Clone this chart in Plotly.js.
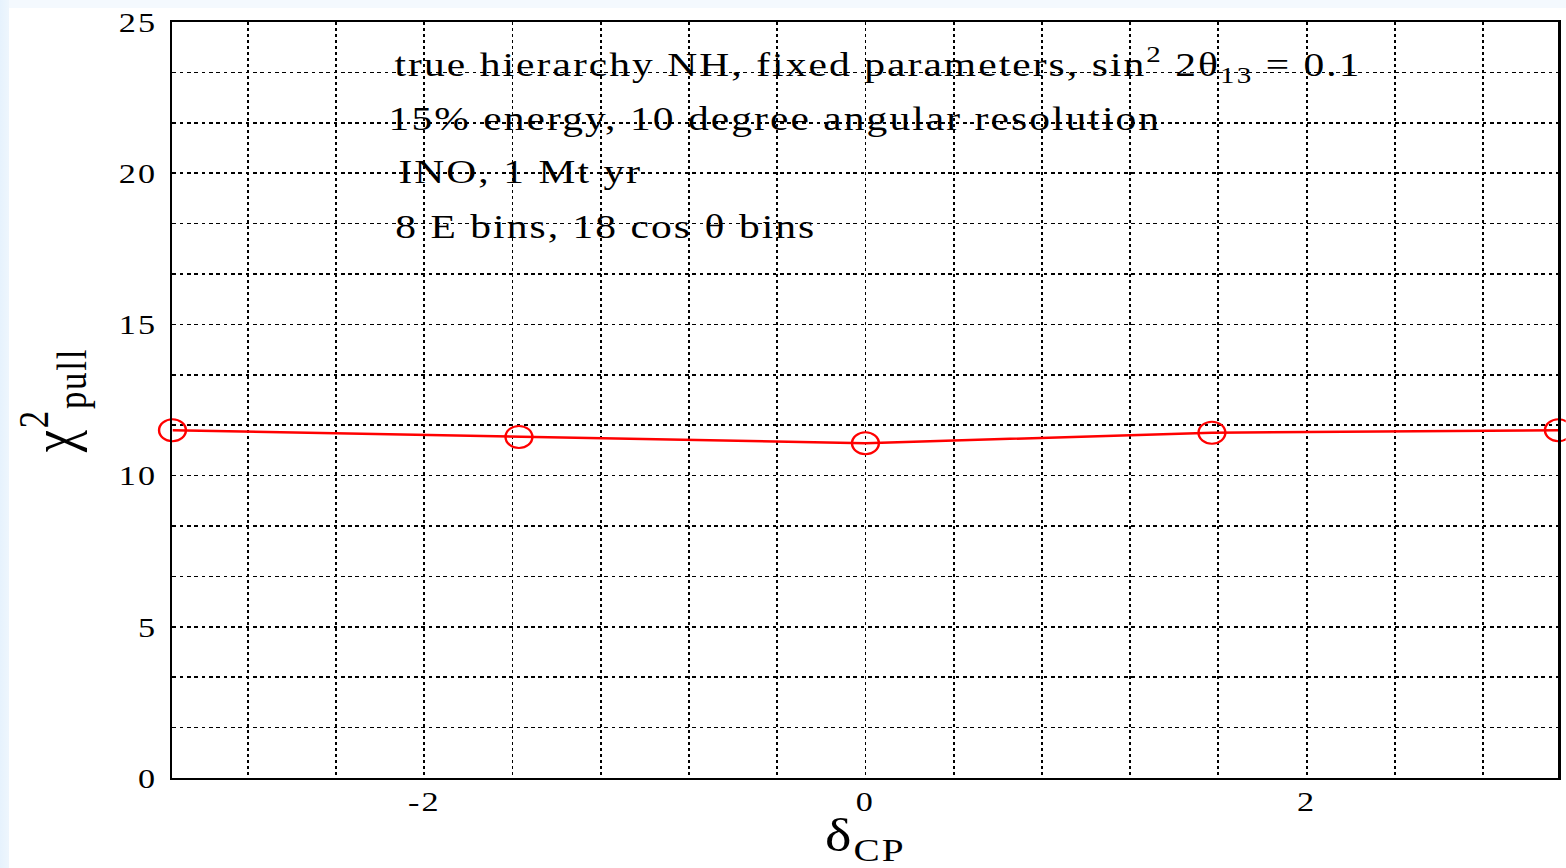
<!DOCTYPE html>
<html>
<head>
<meta charset="utf-8">
<script src="https://cdn.plot.ly/plotly-3.0.1.min.js"></script>
<style>
  html, body { margin: 0; padding: 0; width: 1566px; height: 868px; overflow: hidden;
    background: linear-gradient(90deg, #e6f2fd 0px, #eef6fd 9px, #f4f9fe 9px); }
  #chart { position: absolute; left: 9px; top: 8px; width: 1276px; height: 860px;
    transform-origin: 0 0; transform: scaleX(1.22); background: #ffffff; }
  #chart svg text { letter-spacing: 1.7px; }
</style>
</head>
<body>
<div id="chart"></div>
<script>
// CP phase values scanned over the full range
const deltaCP = [-Math.PI, -Math.PI / 2, 0, Math.PI / 2, Math.PI];
// pull-method chi-squared at each delta_CP
const chi2Pull = [11.5, 11.28, 11.07, 11.42, 11.5];

// x and y tick labels
const xTickVals = [-2, 0, 2];
const xTickText = ['-2', '0', '2'];
const yTickVals = [0, 5, 10, 15, 20, 25];
const yTickText = ['0', '5', '10', '15', '20', '25'];

// annotation lines
const infoLines = [
  'true hierarchy NH, fixed parameters, sin<sup>2</sup> 2θ<sub>13</sub> = 0.1',
  '15% energy, 10 degree angular resolution',
  ' INO, 1 Mt yr',
  '8 E bins, 18 cos θ bins'
];
// anchor points (letter spacing widens each line about its centre)
const infoX = [-1.90, -1.988, -2.125, -2.036];
const infoY = [23.6, 21.82, 20.05, 18.25];

const serif = 'Liberation Serif, Times New Roman, serif';

const trace = {
  x: deltaCP,
  y: chi2Pull,
  type: 'scatter',
  mode: 'lines+markers',
  line: { color: '#ff0000', width: 2.5 },
  marker: { symbol: 'circle-open', size: 22, color: '#ff0000', line: { width: 2, color: '#ff0000' } },
  cliponaxis: false,
  showlegend: false,
  hoverinfo: 'x+y'
};

const axisCommon = {
  showline: true, mirror: true, linecolor: '#000000', linewidth: 2,
  zeroline: false, ticks: '',
  showgrid: true, gridcolor: '#000000', gridwidth: 1.5, griddash: 'dot',
  ticklabeloverflow: 'allow',
  tickfont: { family: serif, size: 28, color: '#000000' }
};

const layout = {
  width: 1276, height: 860,
  margin: { l: 134, r: 6, t: 14, b: 90 },
  paper_bgcolor: '#ffffff', plot_bgcolor: '#ffffff',
  font: { family: serif, color: '#000000' },
  xaxis: Object.assign({}, axisCommon, {
    range: [-Math.PI, Math.PI],
    tickmode: 'array', tickvals: xTickVals, ticktext: xTickText,
    ticklabelstandoff: -3,
    minor: { dtick: 0.4, tick0: 0, showgrid: true, gridcolor: '#000000', gridwidth: 1.5, griddash: 'dot', ticks: '' },
    title: { text: 'δ<sub>CP</sub>', font: { family: serif, size: 46, color: '#000000' }, standoff: 2 }
  }),
  yaxis: Object.assign({}, axisCommon, {
    range: [0, 25],
    tickmode: 'array', tickvals: yTickVals, ticktext: yTickText,
    ticklabelstandoff: 5,
    minor: { dtick: 5 / 3, tick0: 0, showgrid: true, gridcolor: '#000000', gridwidth: 1.5, griddash: 'dot', ticks: '' },
    title: { text: 'χ<sup>2</sup><sub>pull</sub>', font: { family: serif, size: 50, color: '#000000' }, standoff: 24 }
  }),
  annotations: infoLines.map((t, i) => ({
    x: infoX[i], y: infoY[i], xref: 'x', yref: 'y',
    xanchor: 'left', yanchor: 'middle', showarrow: false,
    text: t, font: { family: serif, size: 34, color: '#000000' }
  }))
};

Plotly.newPlot('chart', [trace], layout, { displayModeBar: false, staticPlot: true });
</script>
</body>
</html>
